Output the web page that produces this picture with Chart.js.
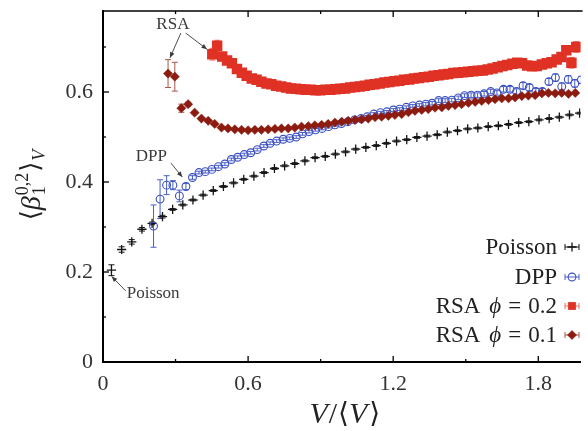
<!DOCTYPE html>
<html><head><meta charset="utf-8">
<script src="https://cdn.jsdelivr.net/npm/chart.js@4/dist/chart.umd.min.js"></script>
<style>html,body{margin:0;padding:0;background:#fff;}#wrap{width:588px;height:431px;}</style>
</head><body><div id="wrap"><canvas id="c" width="588" height="431"></canvas></div>
<script>
// ---------------- data ----------------
const xTicks = [0, 0.6, 1.2, 1.8];
const yTicks = [0, 0.2, 0.4, 0.6];
const seriesNames = ['Poisson', 'DPP', 'RSA', 'RSA'];
const seriesPhi = ['', '', '0.2', '0.1'];

const poissonX = [0.035,0.077,0.119,0.161,0.203,0.246,0.288,0.330,0.372,0.414,0.456,0.498,0.540,0.582,0.624,0.666,0.709,0.751,0.793,0.835,0.877,0.919,0.961,1.003,1.045,1.087,1.130,1.172,1.214,1.256,1.298,1.340,1.382,1.424,1.466,1.508,1.550,1.593,1.635,1.677,1.719,1.761,1.803,1.845,1.887,1.929,1.971];
const poissonY = [0.204,0.250,0.267,0.295,0.308,0.323,0.339,0.349,0.360,0.371,0.381,0.390,0.398,0.406,0.413,0.421,0.430,0.436,0.441,0.447,0.454,0.457,0.462,0.467,0.473,0.477,0.481,0.486,0.491,0.494,0.499,0.502,0.505,0.511,0.514,0.518,0.520,0.523,0.525,0.528,0.532,0.534,0.538,0.541,0.544,0.549,0.553];
const poissonErr = [0.012,0.006,0.005,0.004,0.003,0.003,0.002,0.002,0.002,0.002,0.002,0.002,0.002,0.002,0.002,0.002,0.002,0.002,0.002,0.002,0.002,0.002,0.002,0.002,0.002,0.002,0.002,0.002,0.002,0.002,0.002,0.002,0.002,0.002,0.002,0.002,0.002,0.002,0.002,0.002,0.002,0.002,0.002,0.002,0.002,0.002,0.002];

const dppX = [0.209,0.236,0.263,0.289,0.316,0.343,0.370,0.397,0.423,0.450,0.477,0.504,0.531,0.557,0.584,0.611,0.638,0.665,0.691,0.718,0.745,0.772,0.799,0.825,0.852,0.879,0.906,0.933,0.959,0.986,1.013,1.040,1.067,1.093,1.120,1.147,1.174,1.201,1.227,1.254,1.281,1.308,1.335,1.361,1.388,1.415,1.442,1.469,1.495,1.522,1.549,1.576,1.603,1.629,1.656,1.683,1.710,1.737,1.763,1.790,1.817,1.844,1.871,1.897,1.924,1.951,1.978];
const dppY = [0.302,0.362,0.393,0.393,0.369,0.390,0.410,0.421,0.423,0.428,0.434,0.440,0.450,0.455,0.461,0.465,0.472,0.480,0.486,0.491,0.495,0.497,0.500,0.507,0.512,0.516,0.519,0.523,0.527,0.530,0.534,0.538,0.541,0.545,0.551,0.554,0.556,0.560,0.562,0.566,0.569,0.571,0.573,0.575,0.581,0.581,0.582,0.587,0.592,0.593,0.593,0.596,0.601,0.598,0.606,0.606,0.601,0.614,0.610,0.601,0.601,0.623,0.632,0.612,0.628,0.619,0.627];
const dppErr = [0.047,0.043,0.021,0.010,0.013,0.007,0.004,0.003,0.003,0.003,0.003,0.003,0.003,0.003,0.003,0.003,0.003,0.003,0.003,0.003,0.003,0.003,0.003,0.003,0.003,0.003,0.003,0.003,0.003,0.003,0.003,0.003,0.003,0.003,0.003,0.003,0.003,0.003,0.003,0.003,0.003,0.003,0.004,0.004,0.004,0.004,0.004,0.004,0.004,0.005,0.005,0.005,0.005,0.005,0.006,0.006,0.006,0.007,0.007,0.007,0.007,0.007,0.008,0.008,0.008,0.008,0.008];

const rsa2X = [0.452,0.472,0.493,0.513,0.533,0.554,0.574,0.594,0.615,0.635,0.655,0.676,0.696,0.716,0.737,0.757,0.777,0.798,0.818,0.838,0.859,0.879,0.899,0.920,0.940,0.961,0.981,1.001,1.022,1.042,1.062,1.083,1.103,1.123,1.144,1.164,1.184,1.205,1.225,1.245,1.266,1.286,1.306,1.327,1.347,1.367,1.388,1.408,1.428,1.449,1.469,1.489,1.510,1.530,1.550,1.571,1.591,1.611,1.632,1.652,1.672,1.693,1.713,1.733,1.754,1.774,1.794,1.815,1.835,1.855,1.876,1.896,1.916,1.937,1.957];
const rsa2Y = [0.684,0.703,0.679,0.670,0.664,0.651,0.643,0.636,0.630,0.627,0.623,0.619,0.617,0.614,0.612,0.610,0.608,0.607,0.606,0.605,0.605,0.604,0.604,0.605,0.605,0.606,0.607,0.608,0.610,0.611,0.612,0.614,0.616,0.617,0.619,0.621,0.622,0.624,0.625,0.627,0.628,0.630,0.631,0.633,0.634,0.636,0.637,0.639,0.640,0.642,0.643,0.644,0.645,0.646,0.647,0.648,0.650,0.652,0.655,0.658,0.660,0.663,0.665,0.664,0.659,0.657,0.658,0.661,0.664,0.666,0.672,0.678,0.693,0.665,0.700];
const rsa2Err = [0.013,0.012,0.004,0.003,0.003,0.002,0.002,0.002,0.002,0.002,0.002,0.002,0.002,0.002,0.002,0.002,0.002,0.002,0.002,0.002,0.002,0.002,0.002,0.002,0.002,0.002,0.002,0.002,0.002,0.002,0.002,0.002,0.002,0.002,0.002,0.002,0.002,0.002,0.002,0.002,0.002,0.002,0.002,0.002,0.002,0.002,0.002,0.002,0.002,0.002,0.002,0.002,0.002,0.002,0.002,0.002,0.002,0.002,0.002,0.002,0.002,0.004,0.004,0.004,0.004,0.004,0.004,0.004,0.005,0.005,0.006,0.006,0.010,0.012,0.012];

const rsa1X = [0.269,0.297,0.324,0.352,0.379,0.407,0.435,0.462,0.490,0.517,0.545,0.573,0.600,0.628,0.655,0.683,0.711,0.738,0.766,0.793,0.821,0.849,0.876,0.904,0.931,0.959,0.987,1.014,1.042,1.069,1.097,1.125,1.152,1.180,1.207,1.235,1.263,1.290,1.318,1.345,1.373,1.401,1.428,1.456,1.483,1.511,1.539,1.566,1.594,1.621,1.649,1.677,1.704,1.732,1.759,1.787,1.815,1.842,1.870,1.897,1.925,1.953];
const rsa1Y = [0.641,0.634,0.564,0.573,0.554,0.541,0.536,0.529,0.521,0.519,0.517,0.516,0.515,0.516,0.516,0.517,0.518,0.519,0.519,0.521,0.523,0.524,0.526,0.527,0.529,0.532,0.534,0.536,0.538,0.539,0.541,0.544,0.545,0.547,0.549,0.551,0.555,0.558,0.560,0.562,0.565,0.566,0.569,0.571,0.573,0.576,0.578,0.580,0.582,0.584,0.586,0.586,0.588,0.591,0.592,0.593,0.597,0.598,0.597,0.598,0.596,0.598];
const rsa1Err = [0.031,0.032,0.009,0.004,0.002,0.002,0.002,0.002,0.002,0.002,0.002,0.002,0.002,0.002,0.002,0.002,0.002,0.002,0.002,0.002,0.002,0.002,0.002,0.002,0.002,0.002,0.002,0.002,0.002,0.002,0.002,0.002,0.002,0.002,0.002,0.002,0.002,0.002,0.002,0.002,0.002,0.002,0.002,0.002,0.002,0.002,0.002,0.002,0.002,0.002,0.002,0.002,0.002,0.002,0.002,0.002,0.002,0.002,0.002,0.002,0.002,0.002];

// ---------------- styling ----------------
const SERIF = "'Liberation Serif', 'DejaVu Serif', serif";
const C_POI = '#151515', C_DPP = '#3a4fbf', C_RSA2 = '#e03125', C_RSA1 = '#8c1c10';

const pts = (xs, ys) => xs.map((v, i) => ({x: v, y: ys[i]}));

const datasets = [
  {label: 'RSA ϕ = 0.1', data: pts(rsa1X, rsa1Y), errors: rsa1Err, errColor: '#a8554a',
   pointStyle: 'rectRot', pointRadius: 4.6, backgroundColor: C_RSA1, borderColor: C_RSA1, borderWidth: 0.5},
  {label: 'RSA ϕ = 0.2', data: pts(rsa2X, rsa2Y), errors: rsa2Err, errColor: '#ec6a60',
   pointStyle: 'rect', pointRadius: 7.4, backgroundColor: C_RSA2, borderColor: C_RSA2, borderWidth: 0},
  {label: 'DPP', data: pts(dppX, dppY), errors: dppErr, errColor: '#4a5fc8',
   pointStyle: 'circle', pointRadius: 3.9, backgroundColor: 'rgba(0,0,0,0)', borderColor: C_DPP, borderWidth: 1.1},
  {label: 'Poisson', data: pts(poissonX, poissonY), errors: poissonErr, errColor: C_POI,
   pointStyle: 'cross', pointRadius: 4.6, backgroundColor: C_POI, borderColor: C_POI, borderWidth: 1.3}
];

// ---------------- plugins ----------------
const errorBars = {
  id: 'errorBars',
  beforeDatasetsDraw(chart) {
    const {ctx, chartArea: a, scales: {x, y}} = chart;
    ctx.save();
    ctx.beginPath(); ctx.rect(a.left, a.top, a.right - a.left, a.bottom - a.top); ctx.clip();
    chart.data.datasets.forEach(ds => {
      ctx.strokeStyle = ds.errColor; ctx.lineWidth = 1;
      ds.data.forEach((p, i) => {
        const e = ds.errors[i];
        const px = x.getPixelForValue(p.x);
        const y1 = y.getPixelForValue(p.y - e), y2 = y.getPixelForValue(p.y + e);
        ctx.beginPath();
        ctx.moveTo(px, y1); ctx.lineTo(px, y2);
        ctx.moveTo(px - 3, y1); ctx.lineTo(px + 3, y1);
        ctx.moveTo(px - 3, y2); ctx.lineTo(px + 3, y2);
        ctx.stroke();
      });
    });
    ctx.restore();
  }
};

function drawArrow(ctx, x1, y1, x2, y2) {
  ctx.beginPath(); ctx.moveTo(x1, y1); ctx.lineTo(x2, y2); ctx.stroke();
  const ang = Math.atan2(y2 - y1, x2 - x1), L = 6, w = 0.4;
  ctx.beginPath();
  ctx.moveTo(x2, y2);
  ctx.lineTo(x2 - L * Math.cos(ang - w), y2 - L * Math.sin(ang - w));
  ctx.lineTo(x2 - L * Math.cos(ang + w), y2 - L * Math.sin(ang + w));
  ctx.closePath(); ctx.fill();
}

// pieces: [text, font, dy, extraSpace]
function drawPieces(ctx, pieces, x, y, align) {
  let total = 0;
  const widths = pieces.map(p => { ctx.font = p[1]; const w = ctx.measureText(p[0]).width + (p[3] || 0); total += w; return w; });
  let cx = align === 'right' ? x - total : align === 'center' ? x - total / 2 : x;
  pieces.forEach((p, i) => { ctx.font = p[1]; ctx.fillText(p[0], cx, y + p[2]); cx += widths[i]; });
  return total;
}

const decorations = {
  id: 'decorations',
  afterDraw(chart) {
    const {ctx, chartArea: a, scales: {x, y}} = chart;
    ctx.save();
    // frame top + tick marks
    ctx.strokeStyle = '#000';
    ctx.lineWidth = 1.5;
    ctx.beginPath(); ctx.moveTo(a.left, a.top); ctx.lineTo(a.right + 2, a.top); ctx.stroke();
    ctx.lineWidth = 1.3;
    for (let k = 0; k <= 6; k++) {
      const v = k * 0.3, px = x.getPixelForValue(v), L = k % 2 === 0 ? 6 : 3;
      ctx.beginPath();
      ctx.moveTo(px, a.bottom); ctx.lineTo(px, a.bottom - L);
      ctx.moveTo(px, a.top); ctx.lineTo(px, a.top + L);
      ctx.stroke();
    }
    for (let k = 0; k <= 7; k++) {
      const v = k * 0.1, py = y.getPixelForValue(v), L = k % 2 === 0 ? 6 : 3;
      ctx.beginPath(); ctx.moveTo(a.left, py); ctx.lineTo(a.left + L, py); ctx.stroke();
    }

    // annotations (anchored in data coordinates)
    ctx.fillStyle = '#3a3a3a'; ctx.strokeStyle = '#3a3a3a'; ctx.lineWidth = 0.9;
    ctx.font = `17px ${SERIF}`; ctx.textBaseline = 'middle'; ctx.textAlign = 'center';
    const P = (vx, vy) => [x.getPixelForValue(vx), y.getPixelForValue(vy)];
    let t = P(0.289, 0.749); ctx.fillText('RSA', t[0], t[1]);
    let s = P(0.322, 0.731), e = P(0.277, 0.676); drawArrow(ctx, s[0], s[1], e[0], e[1]);
    s = P(0.342, 0.731); e = P(0.430, 0.695); drawArrow(ctx, s[0], s[1], e[0], e[1]);
    t = P(0.200, 0.456); ctx.fillText('DPP', t[0], t[1]);
    s = P(0.281, 0.442); e = P(0.328, 0.411); drawArrow(ctx, s[0], s[1], e[0], e[1]);
    ctx.textAlign = 'left';
    t = P(0.098, 0.153); ctx.fillText('Poisson', t[0], t[1]);
    s = P(0.094, 0.158); e = P(0.036, 0.190); drawArrow(ctx, s[0], s[1], e[0], e[1]);

    // legend (right aligned text, marker on the right)
    const legend = [datasets[3], datasets[2], datasets[1], datasets[0]];
    const rowY = [247, 277, 306, 335];
    const textRight = 557, mx = 572;
    ctx.textAlign = 'left'; ctx.textBaseline = 'middle';
    legend.forEach((ds, i) => {
      const yy = rowY[i] + 1;
      const name = seriesNames[i], phi = seriesPhi[i];
      const F = `23px ${SERIF}`, FI = `italic 23px ${SERIF}`;
      ctx.fillStyle = '#222';
      if (phi) drawPieces(ctx, [[name, F, 0, 9], ['ϕ', FI, 0, 7], ['=', F, 0, 7], [phi, F, 0]], textRight, yy, 'right');
      else drawPieces(ctx, [[name, F, 0]], textRight, yy, 'right');
      ctx.strokeStyle = ds.errColor; ctx.lineWidth = 1;
      ctx.beginPath();
      ctx.moveTo(mx - 7, rowY[i]); ctx.lineTo(mx + 7, rowY[i]);
      ctx.moveTo(mx - 7, rowY[i] - 3); ctx.lineTo(mx - 7, rowY[i] + 3);
      ctx.moveTo(mx + 7, rowY[i] - 3); ctx.lineTo(mx + 7, rowY[i] + 3);
      ctx.stroke();
      ctx.fillStyle = ds.backgroundColor; ctx.strokeStyle = ds.borderColor;
      ctx.lineWidth = ds.borderWidth || 0.1;
      Chart.helpers.drawPoint(ctx, {pointStyle: ds.pointStyle, radius: Math.min(ds.pointRadius, 5.5), borderWidth: ds.borderWidth || 0.1, rotation: 0}, mx, rowY[i]);
    });

    // x title  V/<V>
    ctx.fillStyle = '#222'; ctx.textBaseline = 'alphabetic';
    const XF = `30px ${SERIF}`, XFI = `italic 30px ${SERIF}`, BR = `28px 'DejaVu Serif', serif`;
    drawPieces(ctx, [['V', XFI, 0, 1], ['/', XF, 0, 1], ['⟨', BR, -1], ['V', XFI, 0, 2], ['⟩', BR, -1]], (a.left + a.right) / 2 + 3, 423, 'center');

    // y title  <beta_1^{0,2}>_V  rotated
    ctx.save();
    ctx.translate(40, 185);
    ctx.rotate(-Math.PI / 2);
    const MI = `italic 28px ${SERIF}`, SS = `18px ${SERIF}`, SI = `italic 18px ${SERIF}`, B2 = `26px 'DejaVu Serif', serif`;
    ctx.font = SS;
    const wSup = ctx.measureText('0,2').width;
    ctx.font = B2; const wL = ctx.measureText('⟨').width;
    ctx.font = MI; const wB = ctx.measureText('β').width + 1;
    ctx.font = B2; const wR = ctx.measureText('⟩').width;
    ctx.font = SI; const wV = ctx.measureText('V').width;
    const total = wL + wB + wSup + wR + wV + 2;
    let cx = -total / 2;
    ctx.font = B2; ctx.fillText('⟨', cx, -1); cx += wL;
    ctx.font = MI; ctx.fillText('β', cx, 0); cx += wB;
    ctx.font = SS; ctx.fillText('1', cx, 5); ctx.fillText('0,2', cx, -12); cx += wSup + 1;
    ctx.font = B2; ctx.fillText('⟩', cx, -1); cx += wR + 1;
    ctx.font = SI; ctx.fillText('V', cx, 5);
    ctx.restore();

    ctx.restore();
  }
};

// ---------------- chart ----------------
Chart.defaults.font.family = SERIF;
Chart.defaults.color = '#333';

new Chart(document.getElementById('c'), {
  type: 'scatter',
  data: {datasets},
  options: {
    responsive: false, animation: false, devicePixelRatio: 1,
    layout: {padding: {top: 11, right: 0, left: 0, bottom: 0}},
    plugins: {legend: {display: false}, tooltip: {enabled: false}},
    scales: {
      x: {
        type: 'linear', min: 0, max: 1.975,
        grid: {display: false, drawTicks: false},
        border: {display: true, color: '#000', width: 2},
        afterBuildTicks: s => { s.ticks = xTicks.map(v => ({value: v})); },
        ticks: {padding: 9, font: {size: 22}, color: '#333', maxRotation: 0, autoSkip: false,
                callback: v => String(v)},
        afterFit: s => { s.height = 69; s.paddingLeft = 0; s.paddingRight = 0; }
      },
      y: {
        type: 'linear', min: 0, max: 0.78,
        grid: {display: false, drawTicks: false},
        border: {display: true, color: '#000', width: 2},
        afterBuildTicks: s => { s.ticks = yTicks.map(v => ({value: v})); },
        ticks: {padding: 10, font: {size: 22}, color: '#333', autoSkip: false,
                callback: v => String(v)},
        afterFit: s => { s.width = 103; s.paddingTop = 0; s.paddingBottom = 0; }
      }
    }
  },
  plugins: [errorBars, decorations]
});
</script>
</body></html>
